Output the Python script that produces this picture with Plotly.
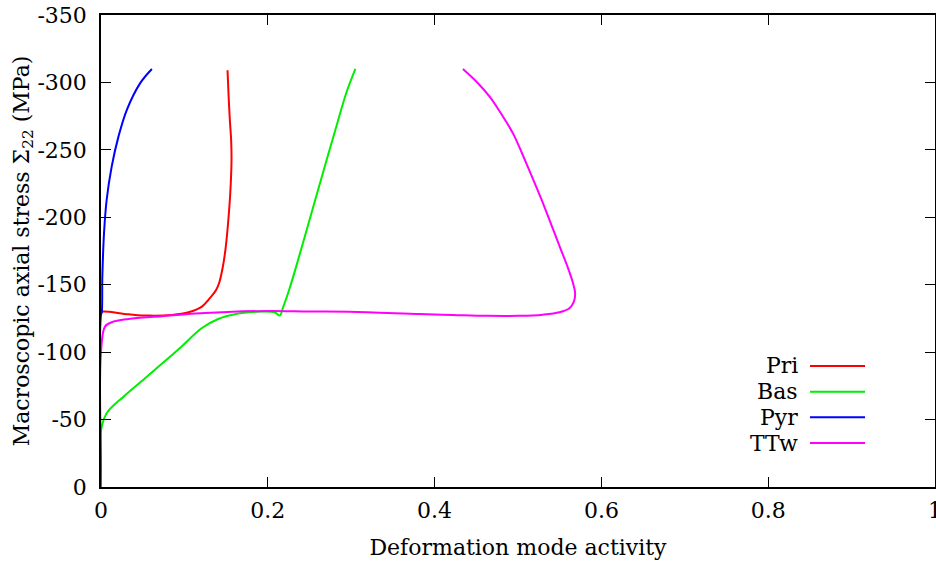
import plotly.graph_objects as go

# ---- data ----
series_names = ["Pri", "Bas", "Pyr", "TTw"]
series_colors = ["#ff0000", "#00ee00", "#0000ff", "#ff00ff"]

pri_x = [0, 0, 0.001, 0.033, 0.057, 0.085, 0.105, 0.121, 0.1305, 0.138, 0.142, 0.146, 0.149, 0.152, 0.155, 0.1565, 0.156, 0.1545, 0.153, 0.1517]
pri_y = [0, -129, -130, -128.1, -127.1, -127.6, -129.6, -133.8, -140, -146, -152, -163, -175, -193, -218, -242.6, -258, -272, -290, -309]

bas_x = [0, 0, 0.0068, 0.027, 0.055, 0.083, 0.0986, 0.1206, 0.1405, 0.1645, 0.188, 0.208, 0.2144, 0.218, 0.226, 0.234, 0.25, 0.266, 0.282, 0.294, 0.305]
bas_y = [0, -42, -54.7, -67, -81.8, -96.7, -105.3, -117.7, -124.6, -128.6, -130, -129.6, -127.1, -132.6, -147, -163.4, -198, -232.7, -267, -292, -310]

pyr_x = [0, 0, 0.0008, 0.0016, 0.0036, 0.0068, 0.0128, 0.021, 0.031, 0.047, 0.061]
pyr_y = [0, -128, -129, -156, -188, -213, -237.6, -260, -279.7, -299.5, -310]

ttw_x = [0, 0, 0.0048, 0.0128, 0.033, 0.073, 0.113, 0.152, 0.204, 0.25, 0.298, 0.382, 0.422, 0.462, 0.502, 0.5297, 0.5497, 0.5617, 0.567, 0.5685,
         0.566, 0.56, 0.55, 0.54, 0.53, 0.52, 0.51, 0.5048, 0.4946, 0.4838, 0.476, 0.466, 0.45, 0.434]
ttw_y = [0, -100, -118.9, -122.2, -124.6, -126.6, -128.6, -129.8, -130.6, -130.2, -130, -128.3, -127.6, -126.9, -126.9, -127.8, -129.6, -132.6, -137.5, -143.7,
         -151.1, -162.3, -178.3, -194.4, -210.4, -225.3, -240, -247.5, -261.5, -272.9, -280.5, -289.5, -300.7, -310]

x_tickvals = [0, 0.2, 0.4, 0.6, 0.8, 1]
x_ticktext = ["0", "0.2", "0.4", "0.6", "0.8", "1"]
y_tickvals = [0, -50, -100, -150, -200, -250, -300, -350]
y_ticktext = ["0", "-50", "-100", "-150", "-200", "-250", "-300", "-350"]

FONT = "DejaVu Serif"
FS = 22

fig = go.Figure()
all_x = [pri_x, bas_x, pyr_x, ttw_x]
all_y = [pri_y, bas_y, pyr_y, ttw_y]
for name, col, xs, ys in zip(series_names, series_colors, all_x, all_y):
    fig.add_trace(go.Scatter(x=xs, y=ys, mode="lines", name=name,
                             line=dict(color=col, width=2, shape="spline", smoothing=1.0),
                             showlegend=False))

# gnuplot-style legend: text right-aligned, then sample line
leg_y0 = 0.2564
leg_dy = 0.0544
for i, (name, col) in enumerate(zip(series_names, series_colors)):
    yy = leg_y0 - i * leg_dy
    fig.add_annotation(xref="paper", yref="paper", x=0.838, y=yy, text=name,
                       showarrow=False, xanchor="right", yanchor="middle",
                       font=dict(family=FONT, size=FS, color="black"))
    fig.add_shape(type="line", xref="paper", yref="paper", x0=0.8501, x1=0.9161,
                  y0=yy, y1=yy, line=dict(color=col, width=2))

axis_common = dict(showgrid=False, zeroline=False, showline=True, linecolor="black",
                   linewidth=1.5, mirror="ticks", ticks="inside", ticklen=10,
                   tickcolor="black", tickwidth=1, automargin=False,
                   ticklabeloverflow="allow",
                   tickfont=dict(family=FONT, size=FS, color="black"))

fig.update_layout(
    width=936, height=565,
    margin=dict(l=101, r=1, t=15, b=78),
    paper_bgcolor="white", plot_bgcolor="white",
    xaxis=dict(range=[0, 1], tickvals=x_tickvals, ticktext=x_ticktext, ticklabelstandoff=3,
               title=dict(text="Deformation mode activity", font=dict(family=FONT, size=FS, color="black"), standoff=17),
               **axis_common),
    yaxis=dict(range=[0, -350], tickvals=y_tickvals, ticktext=y_ticktext, ticklabelstandoff=8,
               title=dict(text="Macroscopic axial stress Σ<sub>22</sub> (MPa)", font=dict(family=FONT, size=FS, color="black"), standoff=1),
               **axis_common),
)

# remove the default 8px page margin so the 936x565 figure fills the window exactly
fig.write_html("out.html", config={"displayModeBar": False},
               post_script="document.body.style.margin='0';document.body.style.overflow='hidden';")
